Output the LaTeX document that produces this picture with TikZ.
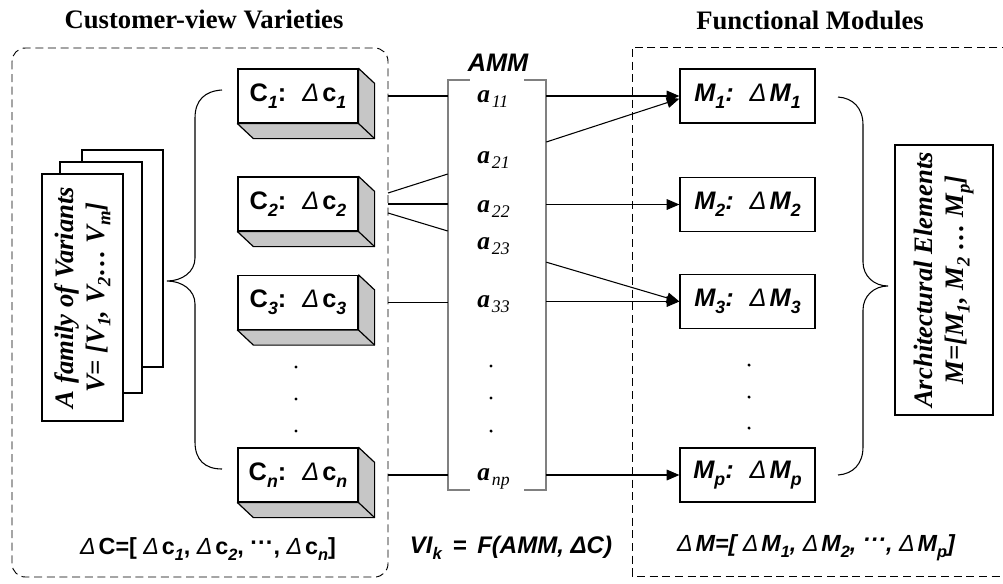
\documentclass[tikz,border=0pt]{standalone}
\usepackage{fontspec}
\setmainfont{Liberation Serif}
\setsansfont{Liberation Sans}
\newfontfamily\dltfont{Liberation Sans}
\usepackage{tikz}
\usetikzlibrary{arrows.meta, positioning}

\newcommand\sbs[1]{\raisebox{-0.5ex}{\scalebox{0.7}{\itshape #1}}}
\newcommand\dlt{{\dltfont\mdseries\itshape Δ}\hspace{0.12em}}
% grey depth faces of a customer-view box
\newcommand\extrude[1]{%
  \filldraw[side] (#1.north east) -- ++(16,15) -- ([shift={(16,15)}]#1.south east)
    -- ([shift={(16,15)}]#1.south west) -- (#1.south west) -- (#1.south east) -- cycle;
  \draw[line width=0.9pt] (#1.south east) -- ++(16,15);}

\begin{document}
\begin{tikzpicture}[
  x=0.75pt, y=-0.75pt,
  every node/.style={inner sep=0pt},
  cfont/.style={font=\sffamily\bfseries\fontsize{19}{22}\selectfont},
  mfont/.style={font=\sffamily\bfseries\itshape\fontsize{19}{22}\selectfont},
  cbox/.style={rectangle, draw, fill=white, line width=0.9pt,
    minimum width=90pt, minimum height=40.5pt, cfont},
  mbox/.style={rectangle, draw, line width=0.9pt,
    minimum width=101.25pt, minimum height=40.5pt, mfont},
  side/.style={fill=gray!45, draw, line width=0.9pt, line join=round},
  page/.style={rectangle, draw, fill=white, line width=0.9pt},
  rotxt/.style={rotate=90, align=center,
    font=\rmfamily\bfseries\itshape\fontsize{20}{23}\selectfont},
  title/.style={font=\rmfamily\bfseries\fontsize{20}{24}\selectfont},
  entry/.style={anchor=base west,
    font=\rmfamily\bfseries\itshape\fontsize{19}{22}\selectfont},
  region/.style={dash pattern=on 6pt off 3.5pt, line width=0.7pt},
  brk/.style={draw=gray, line width=1.3pt},
  ln/.style={line width=0.8pt},
  arr/.style={-{Triangle[length=9.5pt, width=8pt]}, line width=0.8pt},
  brace/.style={line width=0.8pt},
  dot/.style={circle, fill, minimum size=2.6pt}
]
\useasboundingbox (0,0) rectangle (1003,583);

% titles
\node[title] (cvt) at (204,19) {Customer-view Varieties};
\node[title] (fmt) at (810,20) {Functional Modules};

% dashed regions
\coordinate (cvnw) at (12,48);
\coordinate (cvse) at (388,577);
\draw[region, rounded corners=10pt] (cvnw) rectangle (cvse);
\coordinate (fmnw) at (632,47);
\draw[region] (1010,47) -- (fmnw) -- (632,576) -- (1010,576);

% family of variants
\node[page, minimum width=60.75pt, minimum height=162.75pt] (pg3) at (122.5,258.5) {};
\node[page, minimum width=61.5pt, minimum height=173.25pt] (pg2) at (101,277.5) {};
\node[page, rotxt, minimum width=185.25pt, minimum height=60.75pt] (pg1) at (82.5,297.5)
  {A family of Variants\\ V= [V\sbs{1}, V\sbs{2}… V\sbs{m}]};

\draw[brace] (222,90) .. controls (205,91) and (195,100) .. (195,118) -- (195,258)
  .. controls (195,272) and (182,281) .. (167,281)
  .. controls (182,281) and (195,290) .. (195,304) -- (195,442)
  .. controls (195,460) and (205,469) .. (222,469);

% customer-view boxes
\node[cbox] (C1) at (298,96) {C\sbs{1}:\hspace{12pt}\dlt c\sbs{1}};
\extrude{C1}
\node[cbox] (C2) at (298,204) {C\sbs{2}:\hspace{12pt}\dlt c\sbs{2}};
\extrude{C2}
\node[cbox] (C3) at (298,302.5) {C\sbs{3}:\hspace{12pt}\dlt c\sbs{3}};
\extrude{C3}
\node[cbox] (Cn) at (298,475) {C\sbs{n}:\hspace{12pt}\dlt c\sbs{n}};
\extrude{Cn}
\node[dot] (cd1) at (296,367) {};
\node[dot] (cd2) at (296,399) {};
\node[dot] (cd3) at (296,431) {};

% AMM
\node[minimum width=73.5pt, minimum height=307.5pt] (amm) at (497,285) {};
\draw[brk] ([xshift=16.5pt]amm.north west) -- (amm.north west) -- (amm.south west)
  -- ([xshift=16.5pt]amm.south west);
\draw[brk] ([xshift=-16.5pt]amm.north east) -- (amm.north east) -- (amm.south east)
  -- ([xshift=-16.5pt]amm.south east);
\node[mfont] (ammlbl) at (498,63) {AMM};
\node[entry] (a11) at (477,102) {a\hspace{1.5pt}\sbs{\mdseries 11}};
\node[entry] (a21) at (477,163) {a\hspace{1.5pt}\sbs{\mdseries 21}};
\node[entry] (a22) at (477,212) {a\hspace{1.5pt}\sbs{\mdseries 22}};
\node[entry] (a23) at (477,249) {a\hspace{1.5pt}\sbs{\mdseries 23}};
\node[entry] (a33) at (477,307) {a\hspace{1.5pt}\sbs{\mdseries 33}};
\node[entry] (anp) at (477,480) {a\hspace{1.5pt}\sbs{\mdseries np}};
\node[dot] (ad1) at (491,366) {};
\node[dot] (ad2) at (491,398) {};
\node[dot] (ad3) at (491,431) {};

\draw[ln] (C1 -| cvse) -- (C1 -| amm.west);
\draw[ln] ([yshift=8.25pt]C2 -| cvse) -- ([yshift=22.5pt]C2 -| amm.west);
\draw[ln] (C2 -| cvse) -- (C2 -| amm.west);
\draw[ln] ([yshift=-6.75pt]C2 -| cvse) -- ([yshift=-20.25pt]C2 -| amm.west);
\draw[ln] (C3 -| cvse) -- (C3 -| amm.west);
\draw[ln] (Cn -| cvse) -- (Cn -| amm.west);

% functional modules
\node[mbox] (M1) at (747.5,96) {M\sbs{1}:\hspace{12pt}\dlt M\sbs{1}};
\node[mbox] (M2) at (747.5,204.5) {M\sbs{2}:\hspace{12pt}\dlt M\sbs{2}};
\node[mbox] (M3) at (747.5,301.5) {M\sbs{3}:\hspace{12pt}\dlt M\sbs{3}};
\node[mbox] (Mp) at (747.5,475) {M\sbs{p}:\hspace{12pt}\dlt M\sbs{p}};
\node[dot] (md1) at (749,365) {};
\node[dot] (md2) at (749,397) {};
\node[dot] (md3) at (749,428) {};

\draw[arr] (amm.east |- M1) -- (M1.west);
\draw[arr] ([yshift=-34.5pt]amm.east |- M1) -- ([yshift=-2pt]M1.west);
\draw[arr] (amm.east |- M2) -- (M2.west);
\draw[arr] ([yshift=29.5pt]amm.east |- M3) -- (M3.west);
\draw[arr] (amm.east |- M3) -- (M3.west);
\draw[arr] (amm.east |- Mp) -- (Mp.west);

\draw[brace] (838,97) .. controls (853,98) and (863,108) .. (863,125) -- (863,262)
  .. controls (863,276) and (874,286) .. (888,286)
  .. controls (874,286) and (863,296) .. (863,310) -- (863,447)
  .. controls (863,464) and (853,474) .. (838,475);

\node[page, rotxt, minimum width=202.5pt, minimum height=73.5pt] (arch) at (944,280)
  {Architectural Elements\\ M=[M\sbs{1}, M\sbs{2} … M\sbs{p}]};

% formulas
\node[font=\sffamily\bfseries\fontsize{17.5}{20}\selectfont] (dC) at (208,549)
  {\dlt C=[ \dlt c\sbs{1}, \dlt c\sbs{2}, \raisebox{0.35ex}{···}, \dlt c\sbs{n}]};
\node[font=\sffamily\bfseries\itshape\fontsize{18}{21}\selectfont] (vik) at (511,548)
  {VI\sbs{k} \,=\, F(AMM, ΔC)};
\node[font=\sffamily\bfseries\itshape\fontsize{17.5}{20}\selectfont] (dM) at (816,548)
  {\dlt M=[ \dlt M\sbs{1}, \dlt M\sbs{2}, \raisebox{0.35ex}{···}, \dlt M\sbs{p}]};

\end{tikzpicture}
\end{document}
